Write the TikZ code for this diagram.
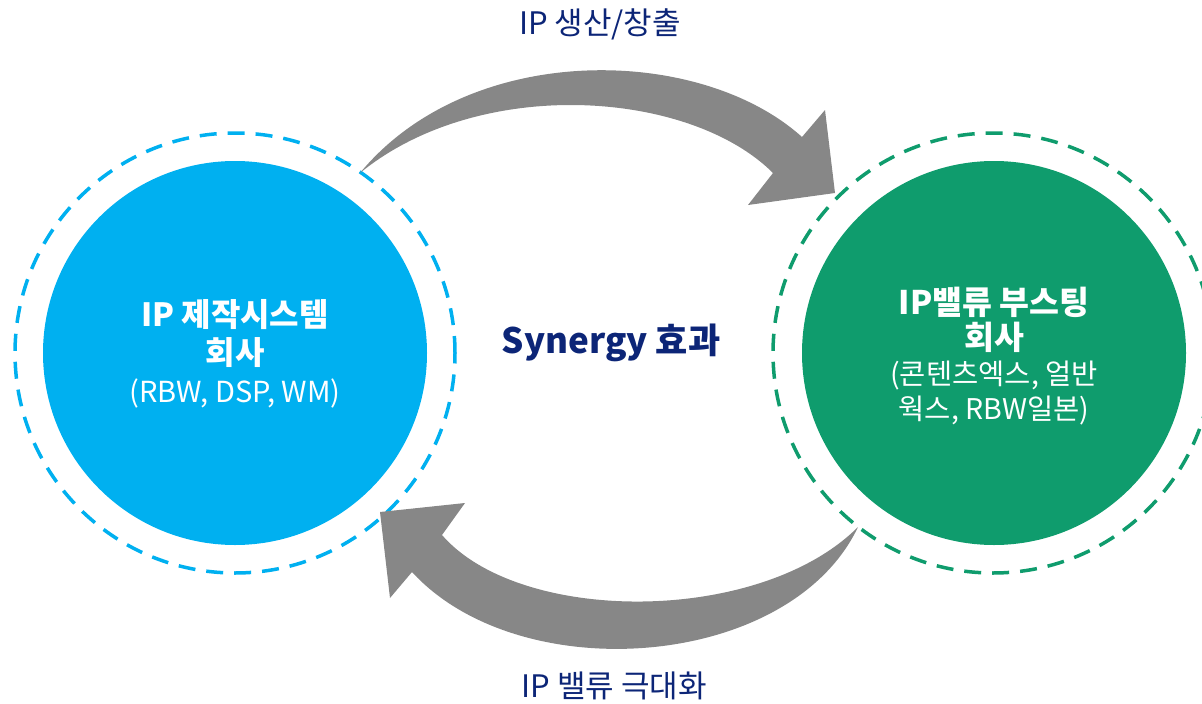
\documentclass[tikz,border=0pt]{standalone}
\usepackage{fontspec}
\setmainfont{Noto Sans CJK KR}
\usetikzlibrary{positioning}

\definecolor{prodblue}{HTML}{00B0F0}
\definecolor{boostgreen}{HTML}{0F9C6D}
\definecolor{arrowgray}{HTML}{878787}
\definecolor{labelnavy}{HTML}{0C2577}

\tikzset{
  hub/.style={circle, inner sep=0pt, minimum size=384pt},
  ring/.style={circle, draw, line width=3.5pt, dash pattern=on 17pt off 11pt,
    minimum size=440pt, inner sep=0pt},
  hubtext/.style={align=center, text=white, inner sep=0pt},
  flowlabel/.style={text=labelnavy, font=\fontsize{31}{36}\selectfont},
  bigarrow/.style={fill=arrowgray}
}

\begin{document}
\begin{tikzpicture}[x=1pt, y=-1pt]
  \useasboundingbox (0,0) rectangle (1202,704);

  % the two companies
  \node[hub, fill=prodblue] (prod) at (235,353) {};
  \node[ring, prodblue] (prodring) at (235,353) {};
  \node[hub, fill=boostgreen] (boost) at (994,353) {};
  \node[ring, boostgreen] (boostring) at (993,353) {};

  \node[hubtext, font=\fontsize{29}{38}\selectfont] (prodtext) at (235,354)
    {{\bfseries\fontsize{32}{38}\selectfont IP 제작시스템}\\
     {\bfseries\fontsize{32}{38}\selectfont 회사}\\
     (RBW, DSP, WM)};
  \node[hubtext, font=\fontsize{28.5}{35}\selectfont] (boosttext) at (994,356)
    {{\bfseries\fontsize{32.5}{36}\selectfont IP밸류 부스팅}\\
     {\bfseries\fontsize{32.5}{36}\selectfont 회사}\\
     (콘텐츠엑스, 얼반\\
     웍스, RBW일본)};

  % big curved arrows
  \fill[bigarrow] (360,173) .. controls (470,40) and (700,45) .. (802,137)
    -- (825,110) -- (835,193) -- (748,205) -- (773,173)
    .. controls (690,90) and (480,75) .. (360,173) -- cycle;
  \fill[bigarrow] (858,527) .. controls (790,670) and (520,690) .. (412,572)
    -- (390,598) -- (380,512) -- (465,503) -- (442,535)
    .. controls (520,625) and (760,625) .. (858,527) -- cycle;

  % labels
  \node[text=labelnavy, font=\bfseries\fontsize{35}{40}\selectfont] (synergy)
    at (611,343) {Synergy 효과};
  \node[flowlabel] (makelabel) at (600,24) {IP 생산/창출};
  \node[flowlabel] (valuelabel) at (614,686) {IP 밸류 극대화};
\end{tikzpicture}
\end{document}
